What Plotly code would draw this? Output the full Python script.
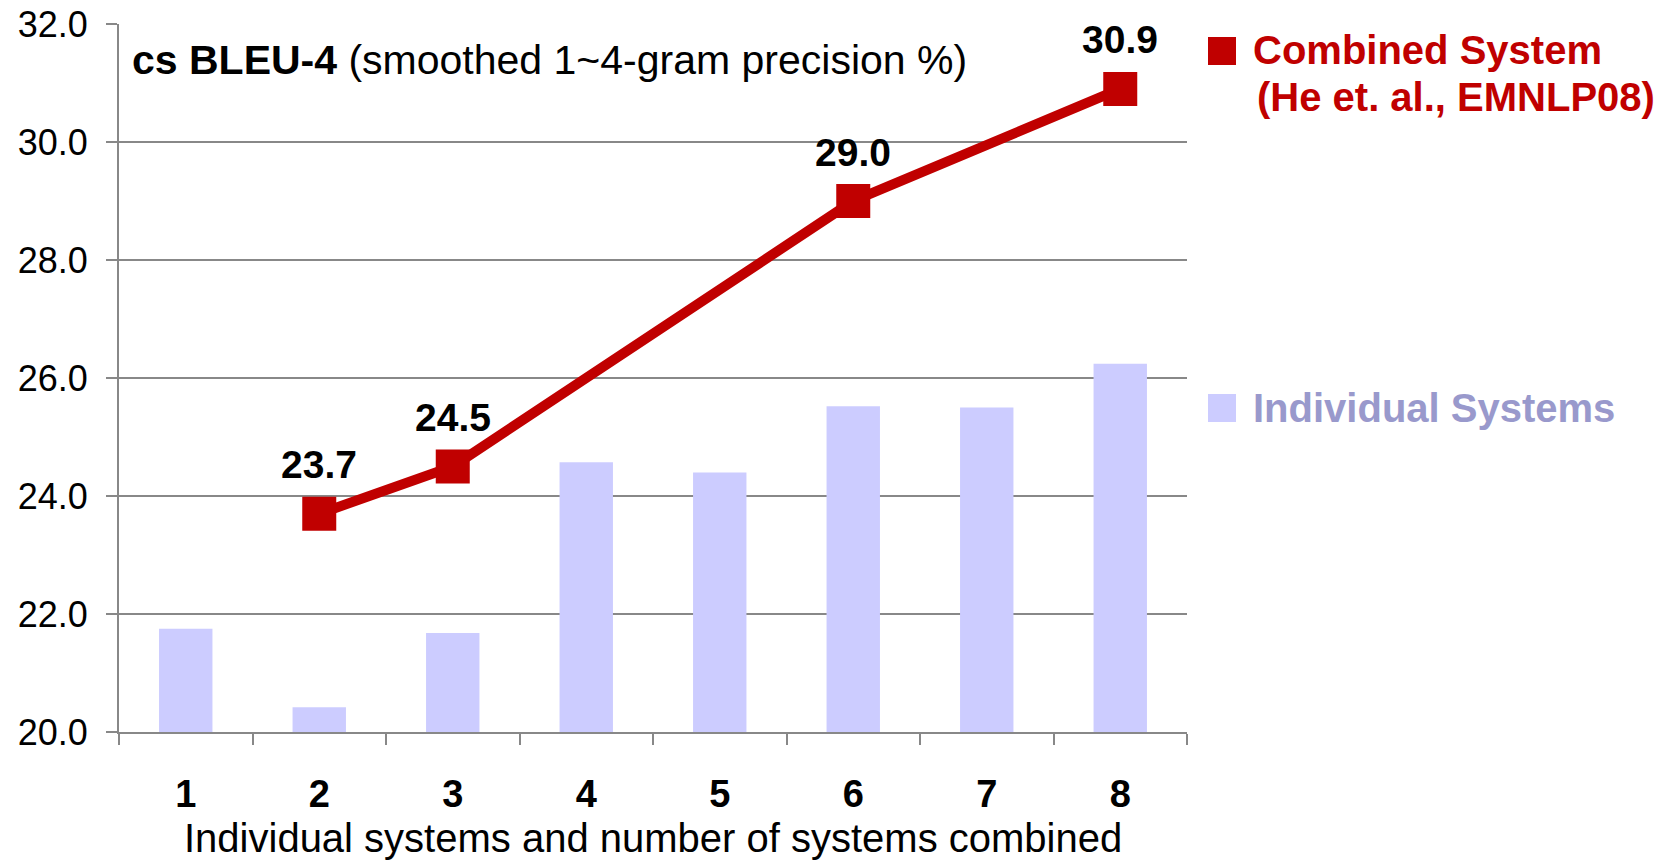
import plotly.graph_objects as go

# Category labels on the x axis (number of systems)
systems = ["1", "2", "3", "4", "5", "6", "7", "8"]

# BLEU-4 of each individual system
individual_bleu = [21.75, 20.42, 21.68, 24.57, 24.40, 25.52, 25.50, 26.24]

# BLEU-4 of the combined system for a given number of systems combined
combined_x = ["2", "3", "6", "8"]
combined_bleu = [23.7, 24.5, 29.0, 30.9]

FONT = "Liberation Sans, Arial, Helvetica, sans-serif"
RED = "#C00000"
BAR = "#CCCCFF"
BAR_TEXT = "#9999CC"
GRID = "#888888"

W, H = 1667, 860
L, R, T, B = 119, 480, 24, 128
PW, PH = W - L - R, H - T - B


def px_x(px):
    return (px - L) / PW


def px_y(py):
    return (H - B - py) / PH


fig = go.Figure()

fig.add_trace(go.Bar(
    x=systems, y=individual_bleu, width=0.4,
    marker=dict(color=BAR, line=dict(width=0)),
    name="Individual Systems",
))

fig.add_trace(go.Scatter(
    x=combined_x, y=combined_bleu, mode="lines+markers",
    line=dict(color=RED, width=10),
    marker=dict(symbol="square", size=34, color=RED),
    name="Combined System",
    cliponaxis=False,
))

annotations = []

# value labels above the combined-system markers (category index on the x axis)
for cx, cv in zip(combined_x, combined_bleu):
    annotations.append(dict(
        x=systems.index(cx), y=cv, xref="x", yref="y", yshift=49,
        text=f"{cv:.1f}", showarrow=False,
        font=dict(family=FONT, size=39, color="black", weight="bold"),
        xanchor="center", yanchor="middle",
    ))

# chart caption inside the plot area
annotations.append(dict(
    x=px_x(130), y=px_y(60), xref="paper", yref="paper",
    text="<b>cs BLEU-4</b> (smoothed 1~4-gram precision %)",
    showarrow=False, xanchor="left", yanchor="middle",
    font=dict(family=FONT, size=41, color="black"),
))

# x axis title
annotations.append(dict(
    x=0.5, y=px_y(838), xref="paper", yref="paper",
    text="Individual systems and number of systems combined",
    showarrow=False, xanchor="center", yanchor="middle",
    font=dict(family=FONT, size=40, color="black"),
))

# legend entries
annotations.append(dict(
    x=px_x(1251), y=px_y(50), xref="paper", yref="paper",
    text="Combined System", showarrow=False, xanchor="left", yanchor="middle",
    font=dict(family=FONT, size=40, color=RED, weight="bold"),
))
annotations.append(dict(
    x=px_x(1255), y=px_y(97), xref="paper", yref="paper",
    text="(He et. al., EMNLP08)", showarrow=False, xanchor="left", yanchor="middle",
    font=dict(family=FONT, size=40, color=RED, weight="bold"),
))
annotations.append(dict(
    x=px_x(1251), y=px_y(408), xref="paper", yref="paper",
    text="Individual Systems", showarrow=False, xanchor="left", yanchor="middle",
    font=dict(family=FONT, size=40, color=BAR_TEXT, weight="bold"),
))

shapes = [
    dict(type="rect", xref="paper", yref="paper",
         x0=px_x(1208), x1=px_x(1236), y0=px_y(37), y1=px_y(65),
         fillcolor=RED, line=dict(width=0)),
    dict(type="rect", xref="paper", yref="paper",
         x0=px_x(1208), x1=px_x(1236), y0=px_y(394), y1=px_y(422),
         fillcolor=BAR, line=dict(width=0)),
]

fig.update_layout(
    width=W, height=H,
    margin=dict(l=L, r=R, t=T, b=B, pad=0, autoexpand=False),
    paper_bgcolor="white", plot_bgcolor="white",
    showlegend=False,
    annotations=annotations,
    shapes=shapes,
    xaxis=dict(
        type="category", categoryorder="array", categoryarray=systems,
        range=[-0.5, len(systems) - 0.5], automargin=False,
        tickson="boundaries", ticks="outside", ticklen=11, tickwidth=2,
        tickcolor=GRID, showline=True, linecolor=GRID, linewidth=2,
        showgrid=False, zeroline=False,
        tickfont=dict(family=FONT, size=38, color="black", weight="bold"),
        ticklabelstandoff=27,
    ),
    yaxis=dict(
        range=[20, 32], tick0=20, dtick=2, tickformat=".1f", automargin=False,
        showgrid=True, gridcolor=GRID, gridwidth=2,
        ticks="outside", ticklen=11, tickwidth=2, tickcolor=GRID,
        showline=True, linecolor=GRID, linewidth=2, zeroline=False,
        tickfont=dict(family=FONT, size=36, color="black"),
        ticklabelstandoff=11,
    ),
)

fig.write_html("out.html")
